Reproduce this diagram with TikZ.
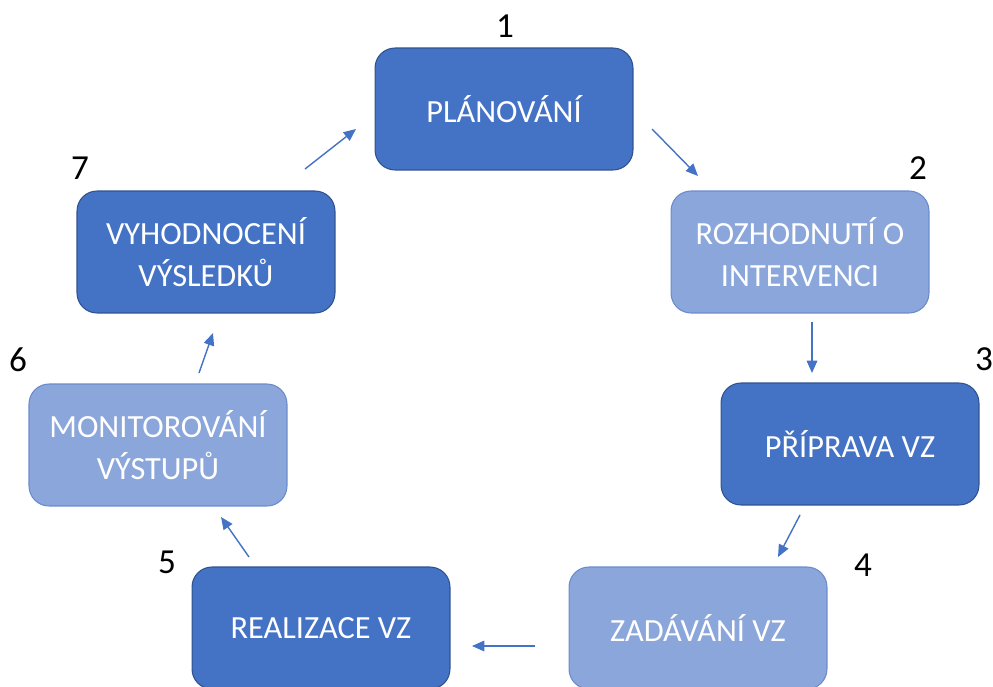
\documentclass[tikz,border=0pt]{standalone}
\usepackage{fontspec}
\setmainfont{Carlito}
\usepackage{tikz}
\usetikzlibrary{arrows.meta}
\definecolor{darkblue}{HTML}{4472C4}
\definecolor{lightblue}{HTML}{8AA6DA}
\definecolor{darkline}{HTML}{2F528F}
\definecolor{lightline}{HTML}{6A8BCB}

\begin{document}
\begin{tikzpicture}[x=0.02cm,y=-0.02cm]
        \tikzset{BoxStyle/.style = {shape = rectangle,rounded corners=0.4cm,minimum width=5.16cm,minimum height=2.44cm,inner sep=0,text=white,align=center,font=\fontsize{18.4}{23.5}\selectfont,line width=0.6pt},
                 DarkBox/.style = {BoxStyle,fill=darkblue,draw=darkline},
                 LightBox/.style = {BoxStyle,fill=lightblue,draw=lightline},
                 NumberStyle/.style = {font=\fontsize{20}{24}\selectfont,inner sep=0},
                 ArrowStyle/.style = {-{Triangle[length=7pt,width=6pt]},color=darkblue,line width=0.8pt}}
    \clip (0,0) rectangle (993,686);
    \node[DarkBox] at (504,109) (1) {PLÁNOVÁNÍ};
    \node[LightBox] at (800,252) (2) {ROZHODNUTÍ O\\INTERVENCI};
    \node[DarkBox] at (850,444) (3) {PŘÍPRAVA VZ};
    \node[LightBox] at (698,628) (4) {ZADÁVÁNÍ VZ};
    \node[DarkBox] at (321,628) (5) {REALIZACE VZ};
    \node[LightBox] at (158,445) (6) {MONITOROVÁNÍ\\VÝSTUPŮ};
    \node[DarkBox] at (206,252) (7) {VYHODNOCENÍ\\VÝSLEDKŮ};

    \node[NumberStyle] at (505,26) (n1) {1};
    \node[NumberStyle] at (918,168) (n2) {2};
    \node[NumberStyle] at (984,359) (n3) {3};
    \node[NumberStyle] at (863,565) (n4) {4};
    \node[NumberStyle] at (167,562) (n5) {5};
    \node[NumberStyle] at (18,360) (n6) {6};
    \node[NumberStyle] at (80,168) (n7) {7};

    \coordinate (s1) at (652,129);
    \coordinate (e1) at (698,176);
    \coordinate (s2) at (812,322);
    \coordinate (e2) at (812,373);
    \coordinate (s3) at (800,515);
    \coordinate (e3) at (778,557);
    \coordinate (s4) at (535,646);
    \coordinate (e4) at (472,646);
    \coordinate (s5) at (249,557);
    \coordinate (e5) at (221,517);
    \coordinate (s6) at (199,373);
    \coordinate (e6) at (213,333);
    \coordinate (s7) at (305,169);
    \coordinate (e7) at (356,129);

    \path
        (s1) edge[ArrowStyle] (e1)
        (s2) edge[ArrowStyle] (e2)
        (s3) edge[ArrowStyle] (e3)
        (s4) edge[ArrowStyle] (e4)
        (s5) edge[ArrowStyle] (e5)
        (s6) edge[ArrowStyle] (e6)
        (s7) edge[ArrowStyle] (e7)
        ;
\end{tikzpicture}
\end{document}
